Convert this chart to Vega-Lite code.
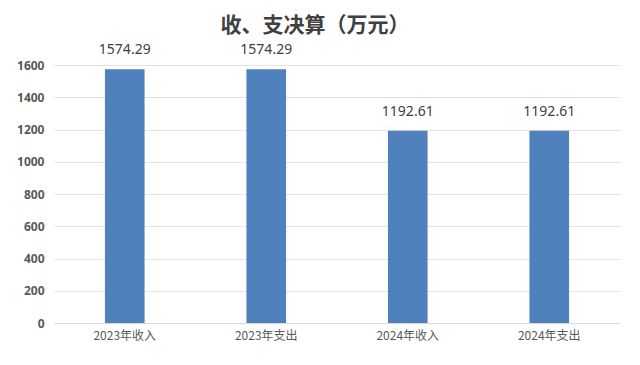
{
  "$schema": "https://vega.github.io/schema/vega-lite/v6.json",
  "width": 566,
  "height": 258,
  "autosize": {"type": "none"},
  "padding": {"left": 54, "top": 65, "right": 20, "bottom": 42},
  "background": "white",
  "title": {
    "text": "收、支决算（万元）",
    "font": "Noto Sans CJK SC",
    "fontSize": 21,
    "fontWeight": "bold",
    "color": "#404040",
    "anchor": "middle",
    "dx": -22,
    "offset": 7
  },
  "data": {
    "values": [
      {"category": "2023年收入", "value": 1574.29},
      {"category": "2023年支出", "value": 1574.29},
      {"category": "2024年收入", "value": 1192.61},
      {"category": "2024年支出", "value": 1192.61}
    ]
  },
  "encoding": {
    "x": {
      "field": "category",
      "type": "nominal",
      "sort": null,
      "scale": {"paddingInner": 0.72, "paddingOuter": 0.36},
      "axis": {
        "title": null,
        "labelAngle": 0,
        "labelFont": "Noto Sans CJK SC",
        "labelFontSize": 12,
        "labelColor": "#595959",
        "labelPadding": 7,
        "ticks": false,
        "domainColor": "#d9d9d9"
      }
    },
    "y": {
      "field": "value",
      "type": "quantitative",
      "scale": {"domain": [0, 1600]},
      "axis": {
        "title": null,
        "values": [0, 200, 400, 600, 800, 1000, 1200, 1400, 1600],
        "format": "d",
        "labelOverlap": false,
        "labelFont": "Noto Sans",
        "labelFontSize": 12,
        "labelFontWeight": "bold",
        "labelColor": "#595959",
        "labelPadding": 10,
        "ticks": false,
        "domain": false,
        "gridColor": "#e3e3e3"
      }
    }
  },
  "layer": [
    {"mark": {"type": "bar", "color": "#4f81bd"}},
    {
      "mark": {"type": "text", "dy": -12, "baseline": "bottom", "font": "Noto Sans", "fontSize": 14, "color": "#404040"},
      "encoding": {"text": {"field": "value", "type": "quantitative", "format": ".2f"}}
    }
  ],
  "config": {"view": {"stroke": null}}
}
